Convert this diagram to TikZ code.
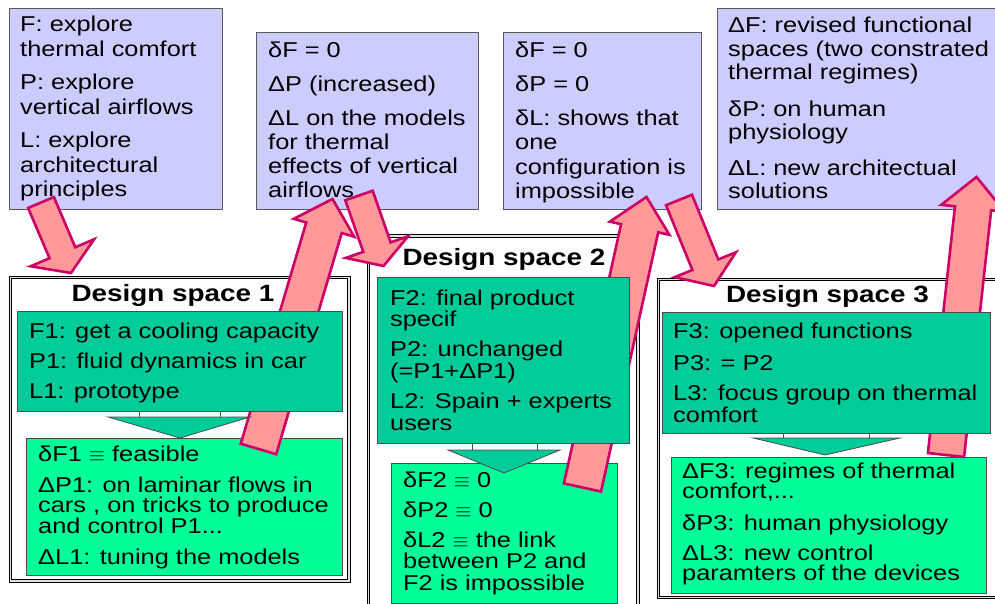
\documentclass[tikz,border=0pt]{standalone}
\usepackage{fontspec}
\setmainfont{Liberation Sans}[FakeStretch=1.18]
\usetikzlibrary{calc}
\definecolor{lav}{HTML}{CCCCFF}
\definecolor{dkgreen}{HTML}{00CC99}
\definecolor{ltgreen}{HTML}{00FF99}
\definecolor{pinkfill}{HTML}{FF9999}
\definecolor{crimson}{HTML}{CC0066}
% block arrow: tail, tip, shaft half width, head half width, head length
\newcommand\blkarrow[5]{%
  \coordinate (bneck) at ($(#2)!#5pt!(#1)$);
  \draw[barrow] ($(#1)!#3pt!90:(#2)$) -- ($(bneck)!#3pt!-90:(#1)$)
    -- ($(bneck)!#4pt!-90:(#1)$) -- (#2) -- ($(bneck)!#4pt!90:(#1)$)
    -- ($(bneck)!#3pt!90:(#1)$) -- ($(#1)!#3pt!-90:(#2)$) -- cycle;
}
\newcommand\lns[1]{\parbox[t]{400pt}{\raggedright #1}}
\tikzset{
  topbox/.style={draw=black!65, fill=lav, line width=0.8pt, inner sep=0pt, outer sep=0pt, anchor=north west},
  dkbox/.style={draw=black!70, fill=dkgreen, line width=0.8pt, inner sep=0pt, outer sep=0pt, anchor=north west},
  ltbox/.style={draw=black!70, fill=ltgreen, line width=0.8pt, inner sep=0pt, outer sep=0pt, anchor=north west},
  dsframe/.style={draw=black, double=black!12, double distance=1.6pt, line width=0.8pt, fill=white, inner sep=0pt, outer sep=0pt, anchor=north west},
  pointer/.style={draw=black!70, fill=dkgreen, line width=0.8pt, line join=miter},
  stem/.style={draw=black!70, fill=white, line width=0.8pt},
  barrow/.style={draw=crimson, fill=pinkfill, line width=2.6pt, line join=miter},
  txt/.style={anchor=base west, inner sep=0pt, font=\fontsize{21.5}{#1}\selectfont},
  hdr/.style={anchor=base, inner sep=0pt, font=\bfseries\fontsize{23.6}{28}\selectfont}
}
\begin{document}
\begin{tikzpicture}[x=1pt,y=-1pt]
\clip (0,0) rectangle (995,604);
\fill[white] (0,0) rectangle (995,604);
% top boxes
\node[topbox, minimum width=213.5pt, minimum height=201pt] (boxA) at (9,8) {};
\node[topbox, minimum width=222pt, minimum height=177pt] (boxB) at (256,32) {};
\node[topbox, minimum width=198pt, minimum height=177pt] (boxC) at (503,32) {};
\node[topbox, minimum width=300pt, minimum height=201pt] (boxD) at (717,8) {};
\node[txt=24.5] (tA) at (20,32) {\lns{F: explore\\thermal comfort\\[9pt]P: explore\\vertical airflows\\[9pt]L: explore\\architectural\\principles}};
\node[txt=24] (tB) at (268,58) {\lns{δF = 0\\[10pt]ΔP (increased)\\[10pt]ΔL on the models\\for thermal\\effects of vertical\\airflows}};
\node[txt=24.3] (tC) at (515,58) {\lns{δF = 0\\[9.5pt]δP = 0\\[9.5pt]δL: shows that\\one\\configuration is\\impossible}};
\node[txt=23.5] (tD) at (728,33) {\lns{ΔF: revised functional\\spaces (two constrated\\thermal regimes)\\[13pt]δP: on human\\physiology\\[12pt]ΔL: new architectual\\solutions}};
% design space frames
\node[dsframe, minimum width=338.7pt, minimum height=303.5pt] (ds1) at (10.3,277.5) {};
\node[dsframe, minimum width=269.5pt, minimum height=400pt] (ds2) at (368.5,236) {};
\node[dsframe, minimum width=360pt, minimum height=318pt] (ds3) at (658.5,279.5) {};
\node[hdr] (h1) at (173,301) {Design space 1};
\node[hdr] (h2) at (504,265) {Design space 2};
\node[hdr] (h3) at (827.5,302) {Design space 3};
% light boxes (outcomes)
\node[ltbox, minimum width=316pt, minimum height=137pt] (l1) at (26,438) {};
\node[ltbox, minimum width=226pt, minimum height=140pt] (l2) at (391,463) {};
\node[ltbox, minimum width=315pt, minimum height=136pt] (l3) at (671,457) {};
\node[txt=20.5] (tl1) at (38,461) {\lns{δF1 $\equiv$ feasible\\[10.5pt]ΔP1: on laminar flows in\\cars , on tricks to produce\\and control P1...\\[11pt]ΔL1: tuning the models}};
\node[txt=21.5] (tl2) at (403,487) {\lns{δF2 $\equiv$ 0\\[8.5pt]δP2 $\equiv$ 0\\[8.5pt]δL2 $\equiv$ the link\\between P2 and\\F2 is impossible}};
\node[txt=20.5] (tl3) at (682,478) {\lns{ΔF3: regimes of thermal\\comfort,...\\[11pt]δP3: human physiology\\[9.5pt]ΔL3: new control\\paramters of the devices}};
% block arrows
\coordinate (a1t) at (41,202.5);  \coordinate (a1h) at (71,273);
\coordinate (a2t) at (258.5,449); \coordinate (a2h) at (332.5,199);
\coordinate (a3t) at (359,195.5); \coordinate (a3h) at (383.5,266);
\coordinate (a4t) at (582.5,487.5); \coordinate (a4h) at (646.5,197);
\coordinate (a5t) at (679,200);   \coordinate (a5h) at (714,286);
\coordinate (a6t) at (946,455);   \coordinate (a6h) at (976.5,177);
\blkarrow{a1t}{a1h}{14}{34.5}{22}
\blkarrow{a2t}{a2h}{18.5}{31.5}{30}
\blkarrow{a3t}{a3h}{14.5}{33}{20}
\blkarrow{a4t}{a4h}{19}{30.5}{32}
\blkarrow{a5t}{a5h}{14}{33}{23}
\blkarrow{a6t}{a6h}{18.2}{32}{31.5}
% pointers from design boxes to outcomes
\draw[stem] (139,411) rectangle (220,417);
\draw[pointer] (108,417) -- (180,438) -- (250,417) -- cycle;
\draw[stem] (472,443) rectangle (537,450);
\draw[pointer] (448,450) -- (504,473) -- (560,450) -- cycle;
\draw[stem] (783,433) rectangle (869,438);
\draw[pointer] (753,438) -- (825,455) -- (900,438) -- cycle;
% dark boxes (design spaces)
\node[dkbox, minimum width=325pt, minimum height=100pt] (d1) at (17,311) {};
\node[dkbox, minimum width=252pt, minimum height=166pt] (d2) at (377,277) {};
\node[dkbox, minimum width=328pt, minimum height=121pt] (d3) at (662,312) {};
\node[txt=30] (td1) at (29,338) {\lns{F1: get a cooling capacity\\P1: fluid dynamics in car\\L1: prototype}};
\node[txt=21.7] (td2) at (390,305) {\lns{F2: final product\\specif\\[8.5pt]P2: unchanged\\(=P1+ΔP1)\\[8.5pt]L2: Spain + experts\\users}};
\node[txt=22] (td3) at (673,338) {\lns{F3: opened functions\\[10pt]P3: = P2\\[8pt]L3: focus group on thermal\\comfort}};
\end{tikzpicture}
\end{document}
